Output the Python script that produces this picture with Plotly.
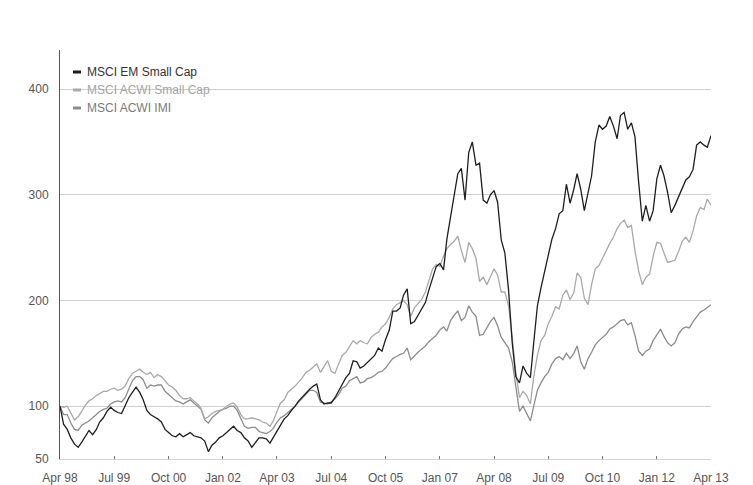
import pandas as pd
import plotly.graph_objects as go

# Monthly index levels, Apr 1998 = 100
start_month = "1998-04-01"
n_months = 181

em_small_cap = [
    100, 83, 78, 70, 64, 61, 66, 72, 77, 73, 78, 85, 89, 95, 99, 96, 94, 93, 100, 108,
    113, 118, 113, 106, 96, 92, 90, 88, 85, 78, 75, 72, 71, 74, 71, 73, 75, 72, 71, 70,
    67, 57, 63, 66, 70, 72, 75, 78, 81, 77, 75, 70, 67, 61, 65, 70, 70, 69, 65, 70,
    76, 82, 88, 91, 96, 100, 105, 109, 112, 116, 119, 121, 106, 102, 103, 103, 108, 114, 121, 127,
    131, 143, 142, 136, 138, 141, 145, 148, 155, 152, 163, 172, 190, 190, 193, 205, 211, 178, 180, 186,
    192, 198, 210, 222, 232, 235, 229, 258, 280, 298, 320, 325, 295, 340, 350, 328, 330, 295, 292, 300,
    304, 293, 257, 245, 210, 160, 128, 122, 138, 131, 127, 160, 195, 212, 228, 243, 258, 268, 282, 285,
    310, 292, 305, 320, 305, 285, 303, 318, 350, 366, 362, 365, 374, 365, 353, 375, 378, 362, 368, 355,
    312, 275, 290, 275, 285, 315, 328, 318, 302, 283, 290, 298, 306, 314, 317, 324, 347, 350, 347, 345,
    356,
]

acwi_small_cap = [
    100, 99, 100, 93, 87, 90, 96, 101, 105, 107, 110, 112, 114, 114, 116, 117, 115, 116, 119, 126,
    131, 133, 135, 132, 130, 132, 127, 130, 128, 124, 120, 118, 115, 110, 107, 107, 108, 105, 102, 98,
    88, 90, 93, 95, 96, 97, 100, 102, 103, 99, 92, 88, 88, 89, 88, 87, 85, 84, 81, 86,
    95, 103, 106, 113, 116, 119, 123, 127, 132, 134, 137, 140, 132, 138, 143, 133, 131, 140, 148, 151,
    157, 162, 159, 162, 160, 159, 165, 168, 170, 175, 178, 184, 192, 196, 198, 200, 196, 185, 193, 197,
    201, 208, 218, 230, 234, 232, 242, 249, 253, 256, 261, 247, 236, 255, 249, 240, 218, 222, 215, 222,
    230, 224, 208, 208, 195, 165, 132, 108, 114, 110, 102, 128, 148, 162, 167, 178, 185, 194, 192, 205,
    210, 201, 207, 226, 222, 202, 196, 215, 230, 233, 240, 248, 254, 260, 268, 273, 276, 269, 271, 247,
    228, 215, 222, 225, 242, 255, 254, 245, 236, 237, 238, 246, 256, 260, 255, 266, 280, 288, 286, 296,
    290,
]

acwi_imi = [
    100, 92, 92, 84, 78, 77, 82, 84, 86, 89, 92, 95, 97, 98, 102, 104, 105, 104, 108, 117,
    124, 128, 128, 125, 117, 120, 119, 120, 120, 114, 111, 108, 105, 104, 102, 104, 106, 103, 100, 97,
    87, 84, 89, 92, 95, 97, 98, 100, 100, 96, 88, 81, 79, 80, 80, 76, 75, 74, 76, 79,
    85, 89, 91, 94, 97, 100, 104, 108, 112, 115, 115, 113, 104, 103, 102, 104, 107, 111, 117, 119,
    124, 126, 128, 122, 123, 126, 127, 129, 132, 133, 136, 141, 145, 147, 149, 150, 155, 144, 148, 151,
    154, 157, 161, 164, 167, 172, 175, 171, 181, 186, 190, 181, 184, 195, 189, 185, 167, 168, 174, 180,
    184, 176, 165, 160, 155, 142, 120, 95, 100, 93, 86, 100, 115, 122, 128, 132, 140, 145, 147, 144,
    150, 145, 150, 157, 142, 135, 145, 151, 158, 162, 165, 168, 173, 175, 178, 181, 182, 177, 179, 167,
    152, 148, 152, 154, 162, 168, 173, 166, 160, 157, 160, 168, 173, 175, 174, 180, 185, 189, 191, 193,
    196,
]

series_names = ["MSCI EM Small Cap", "MSCI ACWI Small Cap", "MSCI ACWI IMI"]
line_colors = ["#1e1e1e", "#a9a9a9", "#8c8c8c"]
text_colors = ["#333333", "#a4a4a4", "#7a7a7a"]

tick_dates = ["1998-04-01", "1999-07-01", "2000-10-01", "2002-01-01", "2003-04-01",
              "2004-07-01", "2005-10-01", "2007-01-01", "2008-04-01", "2009-07-01",
              "2010-10-01", "2012-01-01", "2013-04-01"]
tick_labels = ["Apr 98", "Jul 99", "Oct 00", "Jan 02", "Apr 03", "Jul 04", "Oct 05",
               "Jan 07", "Apr 08", "Jul 09", "Oct 10", "Jan 12", "Apr 13"]
y_ticks = [50, 100, 200, 300, 400]

dates = pd.date_range(start_month, periods=n_months, freq="MS")

fig = go.Figure()
# draw lighter lines first so the dark one sits on top
for name, vals, col in [(series_names[2], acwi_imi, line_colors[2]),
                        (series_names[1], acwi_small_cap, line_colors[1]),
                        (series_names[0], em_small_cap, line_colors[0])]:
    fig.add_trace(go.Scatter(x=dates, y=vals, mode="lines", name=name,
                             line=dict(color=col, width=1.3), showlegend=False))

# legend (drawn as text + swatches in the upper-left corner)
W, H = 651.0, 409.0
legend_y_px = [72, 90, 108]
for name, lc, tc, ypx in zip(series_names, line_colors, text_colors, legend_y_px):
    yp = (459 - ypx) / H
    fig.add_shape(type="line", xref="paper", yref="paper",
                  x0=(73 - 60) / W, x1=(81 - 60) / W, y0=yp, y1=yp,
                  line=dict(color=lc, width=3))
    fig.add_annotation(xref="paper", yref="paper", x=(85 - 60) / W, y=yp,
                       text=name, showarrow=False, xanchor="left", yanchor="middle",
                       font=dict(family="Liberation Sans, Arial, sans-serif", size=12, color=tc))

# the page body adds an 8px offset, so the figure is 8px smaller on each axis
fig.update_layout(
    width=745, height=477,
    margin=dict(l=52, r=42, t=42, b=26, autoexpand=False),
    paper_bgcolor="white", plot_bgcolor="white",
    font=dict(family="Liberation Sans, Arial, sans-serif", size=12, color="#555555"),
    showlegend=False,
)
fig.update_xaxes(
    range=[dates[0], dates[-1]],
    tickvals=tick_dates, ticktext=tick_labels,
    showgrid=False, zeroline=False, automargin=False,
    showline=True, linecolor="#d2d2d2", linewidth=1,
    ticks="inside", ticklen=3, tickcolor="#777777", tickwidth=1,
    ticklabelstandoff=8,
    tickfont=dict(size=12, color="#555555"),
)
fig.update_yaxes(
    range=[50, 437],
    tickvals=y_ticks, automargin=False,
    showgrid=True, gridcolor="#d0d0d0", gridwidth=1,
    zeroline=False,
    showline=True, linecolor="#555555", linewidth=1,
    ticks="", ticklabelstandoff=8,
    tickfont=dict(size=12, color="#555555"),
)

fig.write_html("out.html")
